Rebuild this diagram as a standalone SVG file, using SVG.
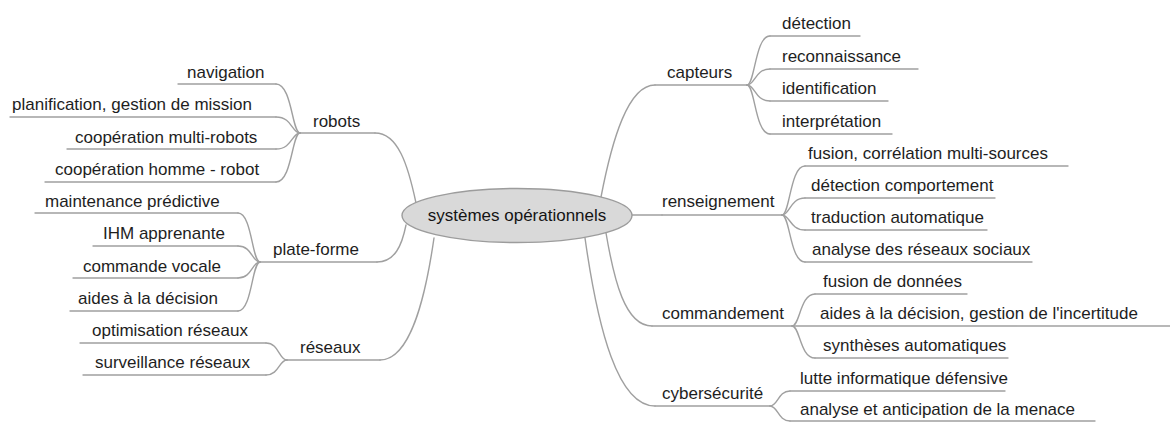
<svg xmlns="http://www.w3.org/2000/svg" width="1170" height="422" viewBox="0 0 1170 422">
  <style>
    .bg { fill: #ffffff; }
    .lbl { font-family: "Liberation Sans", Arial, sans-serif; font-size: 17px; fill: #1e1e1e; }
    .root-lbl { font-family: "Liberation Sans", Arial, sans-serif; font-size: 17px; fill: #141414; }
    .ln { fill: none; stroke: #a0a0a0; stroke-width: 1.4; stroke-linecap: round; }
    .root { fill: #d9d9d9; stroke: #9c9c9c; stroke-width: 1.4; }
  </style>
  <rect class="bg" x="0" y="0" width="1170" height="422"/>

  <!-- branch curves: root to topics, topics to subtopics -->
  <g id="connectors">
    <!-- root to main topics -->
    <path class="ln" d="M 375 133 C 398 133 408 165 416 203"/>
    <path class="ln" d="M 377 262 C 395 262 402 245 406 225"/>
    <path class="ln" d="M 380 360 C 410 360 425 300 434 238"/>
    <path class="ln" d="M 655 85 C 628 85 612 140 601 197"/>
    <path class="ln" d="M 632 215 L 662 215"/>
    <path class="ln" d="M 652 326 C 625 326 614 280 606 233"/>
    <path class="ln" d="M 655 406 C 618 406 598 330 585 238"/>

    <!-- robots -->
    <path class="ln" d="M 300 133 C 292 133 292 84 276 84"/>
    <path class="ln" d="M 300 133 C 292 133 292 117 276 117"/>
    <path class="ln" d="M 300 133 C 292 133 292 149 276 149"/>
    <path class="ln" d="M 300 133 C 292 133 292 182 276 182"/>

    <!-- plate-forme -->
    <path class="ln" d="M 260 262 C 252 262 252 213 238 213"/>
    <path class="ln" d="M 260 262 C 252 262 252 246 238 246"/>
    <path class="ln" d="M 260 262 C 252 262 252 278 238 278"/>
    <path class="ln" d="M 260 262 C 252 262 252 311 238 311"/>

    <!-- réseaux -->
    <path class="ln" d="M 287 360 C 279 360 279 343 266 343"/>
    <path class="ln" d="M 287 360 C 279 360 279 375 266 375"/>

    <!-- capteurs -->
    <path class="ln" d="M 747 85 C 755 85 755 36 770 36"/>
    <path class="ln" d="M 747 85 C 755 85 755 69 770 69"/>
    <path class="ln" d="M 747 85 C 755 85 755 101 770 101"/>
    <path class="ln" d="M 747 85 C 755 85 755 134 770 134"/>

    <!-- renseignement -->
    <path class="ln" d="M 782 215 C 790 215 790 166 805 166"/>
    <path class="ln" d="M 782 215 C 790 215 790 198 805 198"/>
    <path class="ln" d="M 782 215 C 790 215 790 230 805 230"/>
    <path class="ln" d="M 782 215 C 790 215 790 262 805 262"/>

    <!-- commandement -->
    <path class="ln" d="M 792 326 C 800 326 800 294 815 294"/>
    <path class="ln" d="M 792 326 C 800 326 800 358 815 358"/>

    <!-- cybersécurité -->
    <path class="ln" d="M 770 406 C 778 406 778 391 790 391"/>
    <path class="ln" d="M 770 406 C 778 406 778 421 790 421"/>
  </g>

  <g id="root">
    <ellipse class="root" cx="517" cy="215.5" rx="115" ry="27"/>
    <text class="root-lbl" x="517" y="221" text-anchor="middle">systèmes opérationnels</text>
  </g>

  <!-- left side -->
  <g id="robots">
    <text class="lbl" x="313" y="127">robots</text>
    <line class="ln" x1="300" y1="133" x2="375" y2="133"/>
  </g>
  <g id="navigation">
    <text class="lbl" x="187" y="78">navigation</text>
    <line class="ln" x1="178" y1="84" x2="276" y2="84"/>
  </g>
  <g id="planification">
    <text class="lbl" x="12" y="110">planification, gestion de mission</text>
    <line class="ln" x1="10" y1="117" x2="276" y2="117"/>
  </g>
  <g id="cooperation-multi-robots">
    <text class="lbl" x="75" y="143">coopération multi-robots</text>
    <line class="ln" x1="67" y1="149" x2="276" y2="149"/>
  </g>
  <g id="cooperation-homme-robot">
    <text class="lbl" x="55" y="175">coopération homme - robot</text>
    <line class="ln" x1="45" y1="182" x2="276" y2="182"/>
  </g>

  <g id="plate-forme">
    <text class="lbl" x="273" y="255">plate-forme</text>
    <line class="ln" x1="260" y1="262" x2="377" y2="262"/>
  </g>
  <g id="maintenance">
    <text class="lbl" x="45" y="207">maintenance prédictive</text>
    <line class="ln" x1="35" y1="213" x2="238" y2="213"/>
  </g>
  <g id="ihm">
    <text class="lbl" x="103" y="239">IHM apprenante</text>
    <line class="ln" x1="93" y1="246" x2="238" y2="246"/>
  </g>
  <g id="commande-vocale">
    <text class="lbl" x="83" y="272">commande vocale</text>
    <line class="ln" x1="73" y1="278" x2="238" y2="278"/>
  </g>
  <g id="aides-decision">
    <text class="lbl" x="78" y="304">aides à la décision</text>
    <line class="ln" x1="70" y1="311" x2="238" y2="311"/>
  </g>

  <g id="reseaux">
    <text class="lbl" x="300" y="353">réseaux</text>
    <line class="ln" x1="287" y1="360" x2="380" y2="360"/>
  </g>
  <g id="optimisation">
    <text class="lbl" x="92" y="336">optimisation réseaux</text>
    <line class="ln" x1="80" y1="343" x2="266" y2="343"/>
  </g>
  <g id="surveillance">
    <text class="lbl" x="95" y="368">surveillance réseaux</text>
    <line class="ln" x1="83" y1="375" x2="266" y2="375"/>
  </g>

  <!-- right side -->
  <g id="capteurs">
    <text class="lbl" x="667" y="78">capteurs</text>
    <line class="ln" x1="655" y1="85" x2="747" y2="85"/>
  </g>
  <g id="detection">
    <text class="lbl" x="782" y="29">détection</text>
    <line class="ln" x1="770" y1="36" x2="860" y2="36"/>
  </g>
  <g id="reconnaissance">
    <text class="lbl" x="782" y="62">reconnaissance</text>
    <line class="ln" x1="770" y1="69" x2="918" y2="69"/>
  </g>
  <g id="identification">
    <text class="lbl" x="782" y="94">identification</text>
    <line class="ln" x1="770" y1="101" x2="888" y2="101"/>
  </g>
  <g id="interpretation">
    <text class="lbl" x="782" y="127">interprétation</text>
    <line class="ln" x1="770" y1="134" x2="892" y2="134"/>
  </g>

  <g id="renseignement">
    <text class="lbl" x="662" y="207">renseignement</text>
    <line class="ln" x1="662" y1="215" x2="782" y2="215"/>
  </g>
  <g id="fusion-correlation">
    <text class="lbl" x="808" y="159">fusion, corrélation multi-sources</text>
    <line class="ln" x1="805" y1="166" x2="1068" y2="166"/>
  </g>
  <g id="detection-comportement">
    <text class="lbl" x="811" y="191">détection comportement</text>
    <line class="ln" x1="805" y1="198" x2="995" y2="198"/>
  </g>
  <g id="traduction">
    <text class="lbl" x="811" y="223">traduction automatique</text>
    <line class="ln" x1="805" y1="230" x2="987" y2="230"/>
  </g>
  <g id="analyse-reseaux-sociaux">
    <text class="lbl" x="812" y="255">analyse des réseaux sociaux</text>
    <line class="ln" x1="805" y1="262" x2="1032" y2="262"/>
  </g>

  <g id="commandement">
    <text class="lbl" x="662" y="319">commandement</text>
    <line class="ln" x1="652" y1="326" x2="792" y2="326"/>
  </g>
  <g id="fusion-donnees">
    <text class="lbl" x="823" y="287">fusion de données</text>
    <line class="ln" x1="815" y1="294" x2="967" y2="294"/>
  </g>
  <g id="aides-incertitude">
    <text class="lbl" x="820" y="319">aides à la décision, gestion de l'incertitude</text>
    <line class="ln" x1="792" y1="326" x2="1170" y2="326"/>
  </g>
  <g id="syntheses">
    <text class="lbl" x="823" y="351">synthèses automatiques</text>
    <line class="ln" x1="815" y1="358" x2="1008" y2="358"/>
  </g>

  <g id="cybersecurite">
    <text class="lbl" x="662" y="399">cybersécurité</text>
    <line class="ln" x1="655" y1="406" x2="770" y2="406"/>
  </g>
  <g id="lutte">
    <text class="lbl" x="800" y="384">lutte informatique défensive</text>
    <line class="ln" x1="790" y1="391" x2="1005" y2="391"/>
  </g>
  <g id="analyse-menace">
    <text class="lbl" x="800" y="415">analyse et anticipation de la menace</text>
    <line class="ln" x1="790" y1="421" x2="1095" y2="421"/>
  </g>
</svg>
